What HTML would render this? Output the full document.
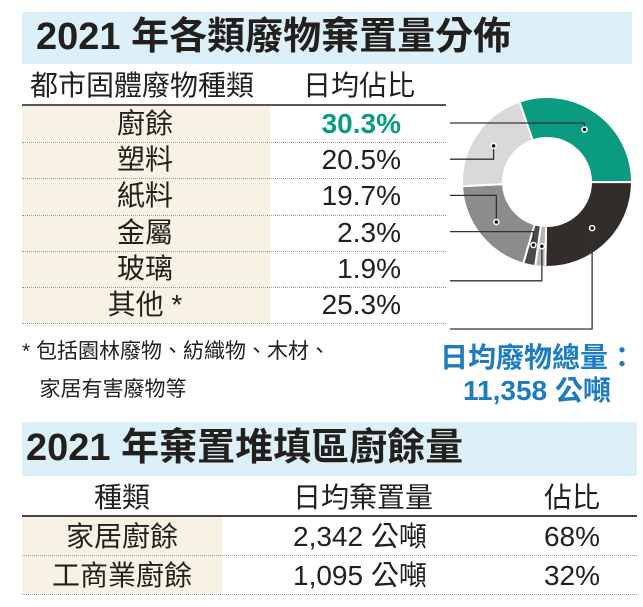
<!DOCTYPE html>
<html><head><meta charset="utf-8"><style>
body{margin:0;width:643px;height:607px;background:#fff;position:relative;overflow:hidden;font-family:"Liberation Sans","Noto Sans CJK TC",sans-serif;color:#231f1c}
.a{position:absolute;white-space:nowrap}
.band{position:absolute;background:#dcf0f9}
.t{font-weight:bold;font-size:38px;line-height:1}
.cell{position:absolute;font-size:28px;line-height:1;white-space:nowrap}
.c{text-align:center}
.dot{position:absolute;height:0;border-top:1px dotted #999}
</style></head><body>
<div class="band" style="left:22px;top:12px;width:610px;height:52px"></div>
<div class="a t" style="left:36px;top:18px">2021 年各類廢物棄置量分佈</div>
<div class="a" style="left:22px;top:106px;width:248px;height:217px;background:#f7f2e3"></div>
<div class="cell" style="left:30px;top:72px">都市固體廢物種類</div>
<div class="cell" style="left:303px;top:72px">日均佔比</div>
<div class="a" style="left:22px;top:104px;width:424px;height:2px;background:#555"></div>
<div id="rows"></div>
<svg class="a" style="left:0;top:0" width="643" height="607" id="donut"></svg>
<div class="cell" style="left:22px;top:333px;font-size:21px;line-height:38px">* 包括園林廢物、紡織物、木材、<br>&nbsp;&nbsp;&nbsp;家居有害廢物等</div>
<div class="a" style="left:440px;top:336px;font-size:28px;color:#1b7dc0;font-weight:bold">日均廢物總量：</div>
<div class="a" style="left:463px;top:369px;font-size:28px;color:#1b7dc0;font-weight:bold">11,358 公噸</div>
<div class="band" style="left:22px;top:422px;width:615px;height:54px"></div>
<div class="a t" style="left:26px;top:429px">2021 年棄置堆填區廚餘量</div>
<div class="cell c" style="left:22px;width:200px;top:484px">種類</div>
<div class="cell" style="left:293px;top:484px">日均棄置量</div>
<div class="cell c" style="left:512px;width:120px;top:484px">佔比</div>
<div class="a" style="left:22px;top:515px;width:615px;height:2px;background:#444"></div>
<div class="a" style="left:22px;top:517px;width:200px;height:77px;background:#f7f2e3"></div>
<div class="cell c" style="left:22px;width:200px;top:523px">家居廚餘</div>
<div class="cell" style="left:293px;top:523px">2,342 公噸</div>
<div class="cell c" style="left:512px;width:120px;top:523px">68%</div>
<div class="dot" style="left:22px;top:555px;width:615px"></div>
<div class="cell c" style="left:22px;width:200px;top:562px">工商業廚餘</div>
<div class="cell" style="left:293px;top:562px">1,095 公噸</div>
<div class="cell c" style="left:512px;width:120px;top:562px">32%</div>
<div class="dot" style="left:22px;top:594px;width:615px"></div>
<script>
const categories=["廚餘","塑料","紙料","金屬","玻璃","其他 *"];
const shares=[30.3,20.5,19.7,2.3,1.9,25.3];
const shareLabels=["30.3%","20.5%","19.7%","2.3%","1.9%","25.3%"];
const colors={"廚餘":"#0b9b80","其他 *":"#322d2a","玻璃":"#b5b5b5","金屬":"#4a4a4a","紙料":"#8c8c8c","塑料":"#d9d9d9"};
const order=["廚餘","其他 *","玻璃","金屬","紙料","塑料"];
const rows=document.getElementById('rows');
const rowTop=106,rowH=36.2;
categories.forEach((c,i)=>{
 const y=rowTop+i*rowH;
 const l=document.createElement('div');l.className='cell c';
 
 
 l.style.left='70px';l.style.width='150px';l.style.top=(y+4)+'px';l.textContent=c;rows.appendChild(l);
 const v=document.createElement('div');v.className='cell';
 
 
 v.style.right=(643-401)+'px';v.style.top=(y+4)+'px';v.textContent=shareLabels[i];
 if(i===0){v.style.color='#0b9b80';v.style.fontWeight='bold';}
 rows.appendChild(v);
 const d=document.createElement('div');d.className='dot';
 
 
 d.style.left='22px';d.style.width='424px';d.style.top=(y+rowH)+'px';rows.appendChild(d);
});
const svg=document.getElementById('donut');const NS='http://www.w3.org/2000/svg';
const cx=547,cy=182,R=85,r=44;
const total=shares.reduce((a,b)=>a+b,0);
function pt(a,rad){return [cx+rad*Math.sin(a),cy-rad*Math.cos(a)];}
let ang=-19*Math.PI/180;const mids={};
order.forEach(c=>{
 const v=shares[categories.indexOf(c)];const sw=v/total*2*Math.PI;
 const a0=ang,a1=ang+sw;const lg=sw>Math.PI?1:0;
 const p0=pt(a0,R),p1=pt(a1,R),q1=pt(a1,r),q0=pt(a0,r);
 const p=document.createElementNS(NS,'path');
 
 
 p.setAttribute('d',`M${p0}A${R},${R} 0 ${lg} 1 ${p1}L${q1}A${r},${r} 0 ${lg} 0 ${q0}Z`);
 p.setAttribute('fill',colors[c]);p.setAttribute('stroke','#fff');p.setAttribute('stroke-width','2');
 svg.appendChild(p);mids[c]=(a0+a1)/2;ang=a1;
});
categories.forEach((c,i)=>{
 const ly=rowTop+i*rowH+(i===5?42:i===4?30:17);
 const m=pt(mids[c],(R+r)/2);
 const pl=document.createElementNS(NS,'polyline');
 
 
 let pts=`450,${ly} ${m[0]},${ly}`;
 if(Math.abs(m[1]-ly)>3)pts+=` ${m[0]},${m[1]}`;
 pl.setAttribute('points',pts);pl.setAttribute('fill','none');pl.setAttribute('stroke','#333');pl.setAttribute('stroke-width','1.3');
 svg.appendChild(pl);
 const ci=document.createElementNS(NS,'circle');
 
 
 ci.setAttribute('cx',m[0]);ci.setAttribute('cy',m[1]);ci.setAttribute('r','2.5');ci.setAttribute('fill','#111');ci.setAttribute('stroke','#fff');ci.setAttribute('stroke-width','1.5');
 svg.appendChild(ci);
});
</script>
</body></html>
